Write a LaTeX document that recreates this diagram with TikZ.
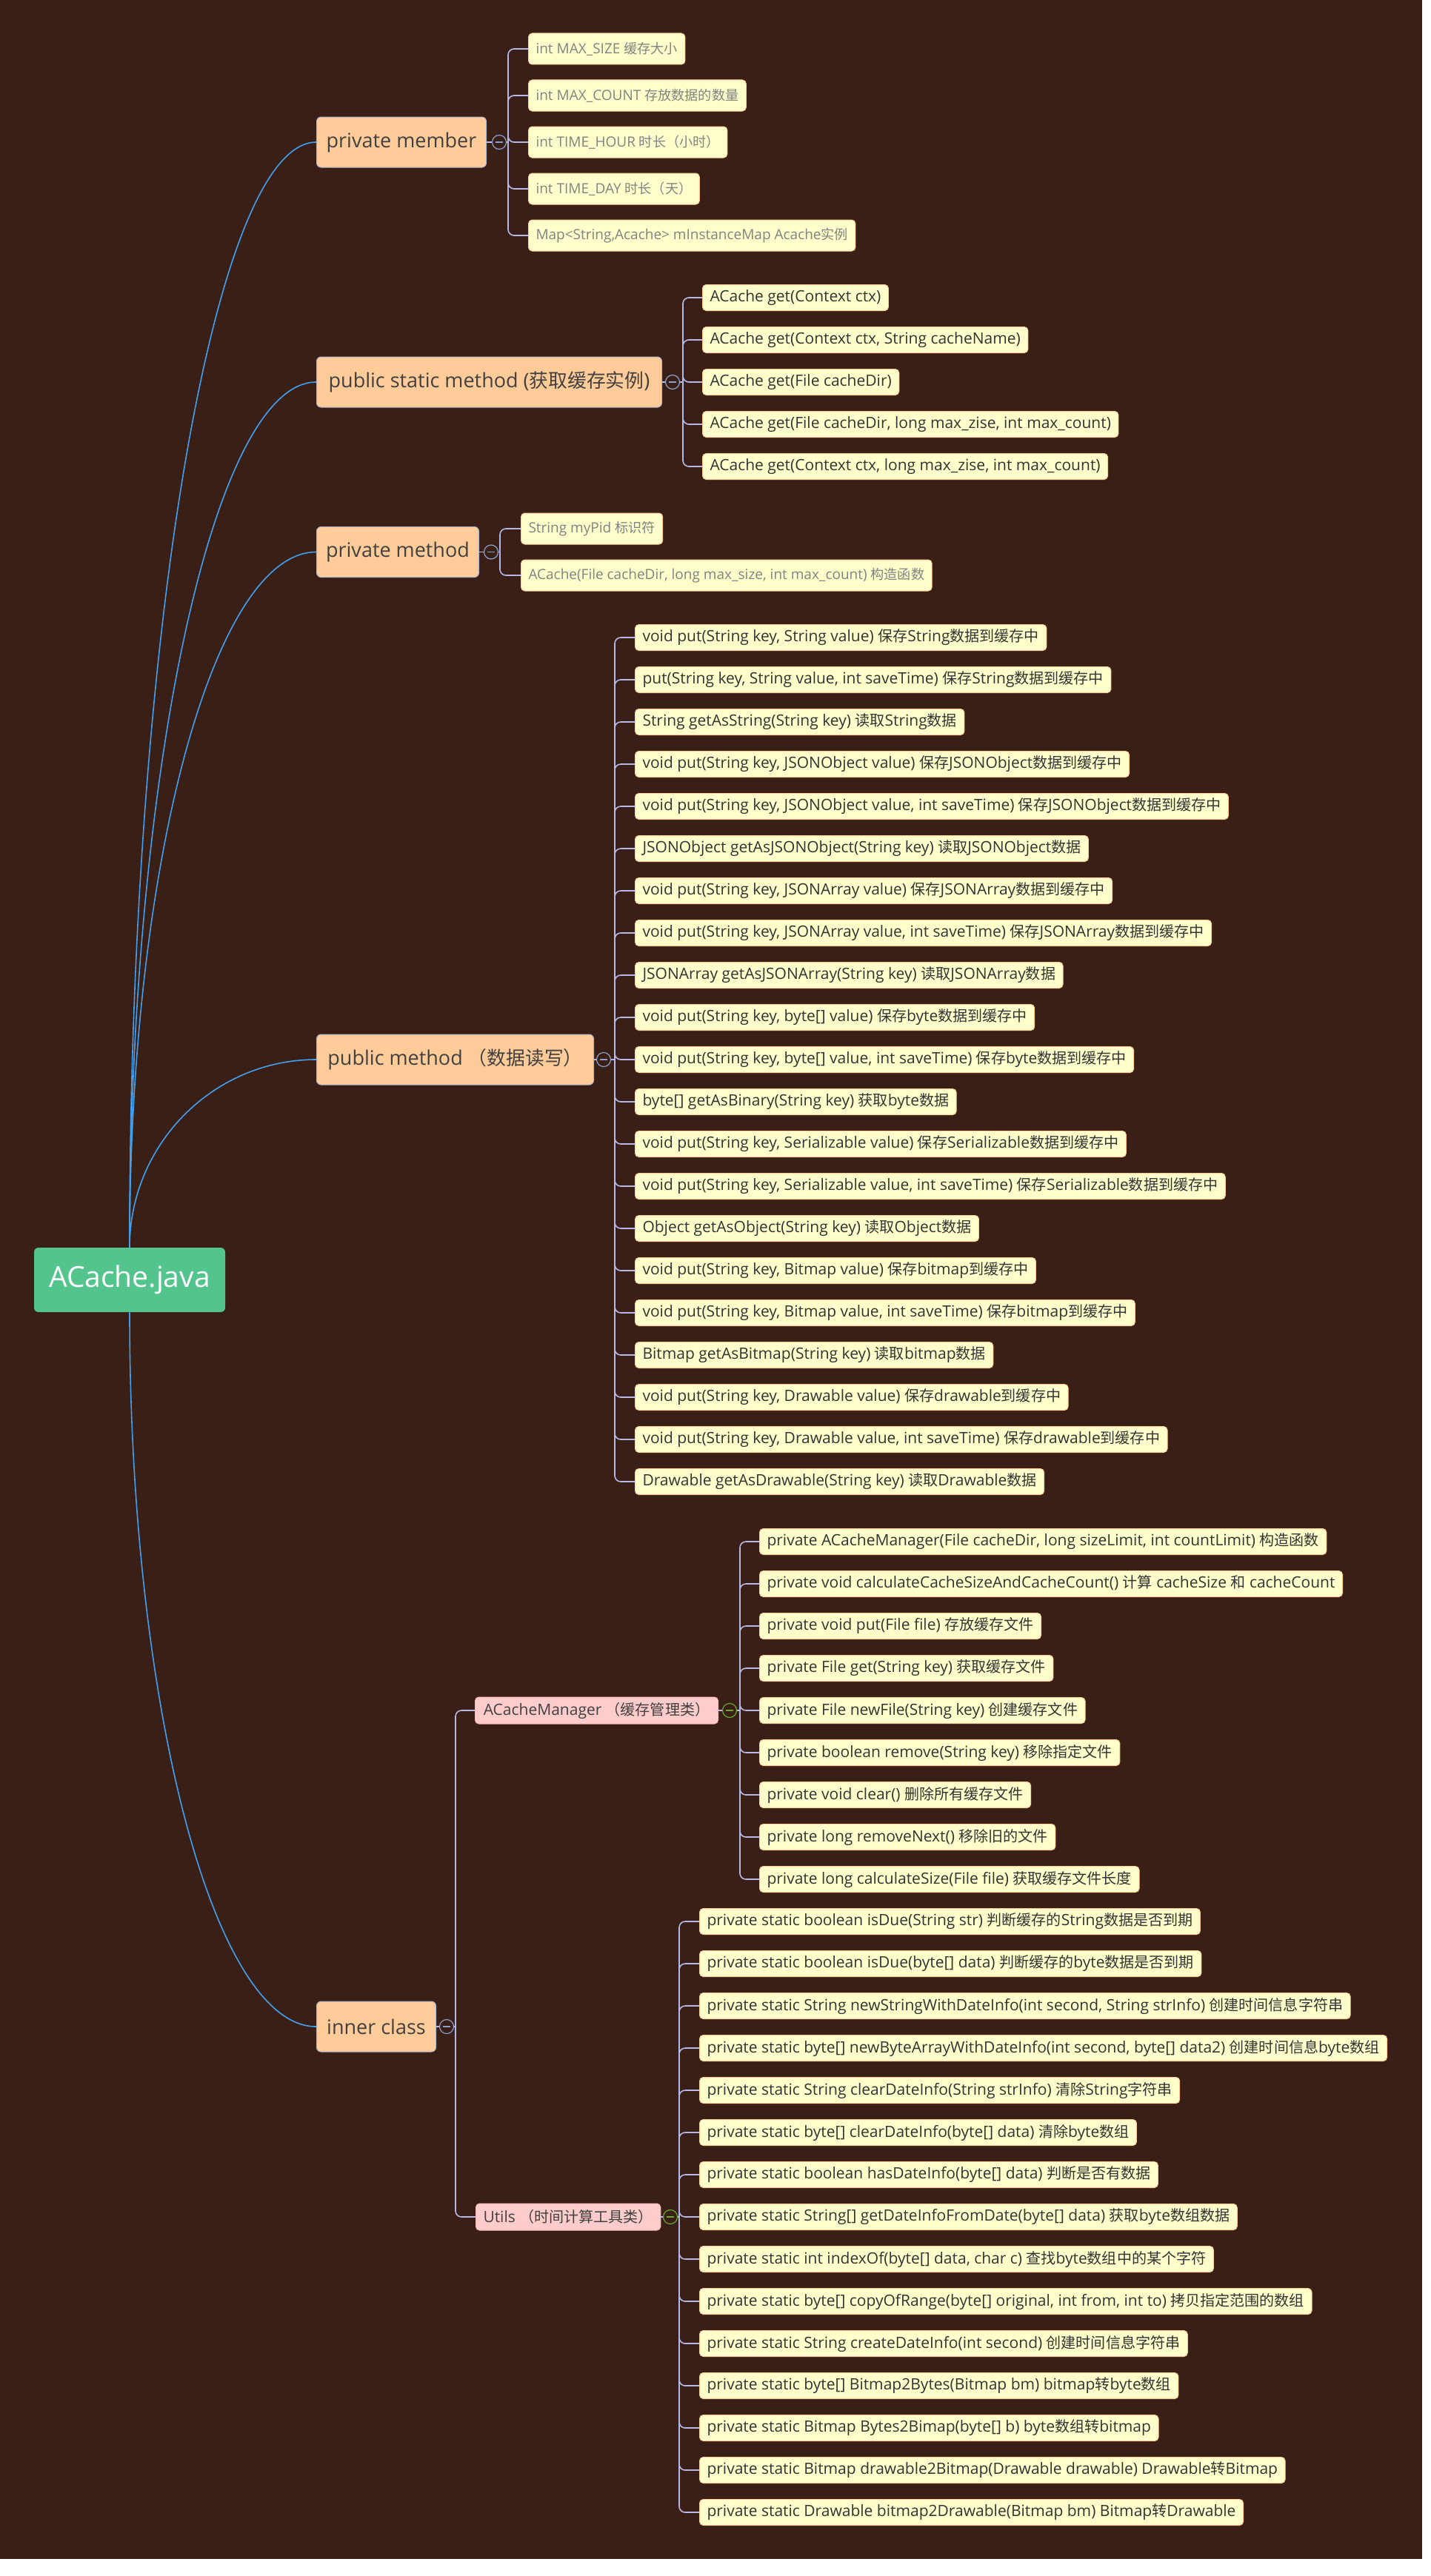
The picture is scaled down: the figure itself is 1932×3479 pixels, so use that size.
\documentclass[tikz,border=0pt]{standalone}
\usepackage{fontspec}
\setmainfont{Open Sans}
\newfontfamily\cjk[Scale=0.955]{Noto Sans CJK SC}
\newcommand\z[1]{{\cjk #1}}
\usetikzlibrary{calc}
\definecolor{bg}{RGB}{57,31,21}
\definecolor{rootgreen}{RGB}{82,196,140}
\definecolor{topicfill}{RGB}{255,204,153}
\definecolor{topicline}{RGB}{170,180,205}
\definecolor{topictext}{RGB}{64,64,64}
\definecolor{subfill}{RGB}{255,204,204}
\definecolor{subline}{RGB}{255,185,185}
\definecolor{leaffill}{RGB}{255,255,204}
\definecolor{leafline}{RGB}{255,204,153}
\definecolor{leaftext}{RGB}{51,51,51}
\definecolor{greytext}{RGB}{130,130,130}
\definecolor{busc}{RGB}{184,184,232}
\definecolor{curvec}{RGB}{66,160,240}
\definecolor{circa}{RGB}{140,160,205}
\definecolor{circb}{RGB}{105,170,45}
\newcommand\rootcurve[2]{\coordinate (k#2) at (#1 |- #2.west);
  \draw[curve] (#1) .. controls ($(#1)!0.55!(k#2)$) and ($(#2.west)!0.55!(k#2)$) .. (#2.west);}
\begin{document}
\begin{tikzpicture}[x=0.5pt,y=-0.5pt,
  rootbox/.style={fill=rootgreen, rounded corners=3pt, text=white, font=\fontsize{19.5pt}{22pt}\selectfont, minimum width=129pt, minimum height=43.5pt, inner sep=0pt},
  topic/.style={anchor=west, fill=topicfill, draw=topicline, line width=0.5pt, rounded corners=3pt, text=topictext, font=\fontsize{13.5pt}{16pt}\selectfont, minimum height=34pt, inner xsep=6pt, inner ysep=0pt},
  sub/.style={anchor=west, fill=subfill, draw=subline, line width=0.5pt, rounded corners=2.5pt, text=topictext, font=\fontsize{10.5pt}{12pt}\selectfont, minimum height=18pt, inner xsep=5pt, inner ysep=0pt},
  leaf/.style={anchor=west, fill=leaffill, draw=leafline, line width=0.5pt, rounded corners=2.5pt, text=leaftext, font=\fontsize{10.5pt}{12pt}\selectfont, minimum height=17.5pt, inner xsep=5pt, inner ysep=0pt},
  gleaf/.style={leaf, text=greytext, font=\fontsize{9.5pt}{11pt}\selectfont, minimum height=21pt},
  busline/.style={draw=busc, line width=0.8pt, rounded corners=4pt},
  curve/.style={draw=curvec, line width=0.8pt},
  circ/.style={circle, draw=#1, fill=bg, line width=0.6pt, minimum size=9.5pt, inner sep=0pt,
    path picture={\draw[#1, line width=0.6pt] ([xshift=-2.3pt]path picture bounding box.center) -- ([xshift=2.3pt]path picture bounding box.center);}}
]
\useasboundingbox (0,0) rectangle (1932,3479);
\fill[white] (0,0) rectangle (1932,3479);
\fill[bg] (0,0) rectangle (1920,3456);

% root
\node[rootbox] (root) at (175,1728.5) {ACache.java};

% level 1
\node[topic, minimum width=114.5pt] (pm) at (427,192) {private member};
\node[topic, minimum width=233pt] (psm) at (427,516) {public static method (\z{获取缓存实例})};
\node[topic, minimum width=109.5pt] (prm) at (427,745.5) {private method};
\node[topic, minimum width=187pt] (pub) at (427,1431) {public method \z{（数据读写）}};
\node[topic, minimum width=80.5pt] (ic) at (427,2737) {inner class};

% level 2
\node[sub, minimum width=164pt] (acm) at (641,2310) {ACacheManager \z{（缓存管理类）}};
\node[sub, minimum width=124pt] (ut) at (642,2994) {Utils \z{（时间计算工具类）}};

% private member children
\node[gleaf] (pm1) at (713,66) {int MAX\_SIZE \z{缓存大小}};
\node[gleaf] (pm2) at (713,129) {int MAX\_COUNT \z{存放数据的数量}};
\node[gleaf] (pm3) at (713,192) {int TIME\_HOUR \z{时长（小时）}};
\node[gleaf] (pm4) at (713,255) {int TIME\_DAY \z{时长（天）}};
\node[gleaf] (pm5) at (713,318) {Map<String,Acache> mInstanceMap Acache\z{实例}};

% public static method children
\node[leaf] (psm1) at (948,402) {ACache get(Context ctx)};
\node[leaf] (psm2) at (948,459) {ACache get(Context ctx, String cacheName)};
\node[leaf] (psm3) at (948,516) {ACache get(File cacheDir)};
\node[leaf] (psm4) at (948,573) {ACache get(File cacheDir, long max\_zise, int max\_count)};
\node[leaf] (psm5) at (948,630) {ACache get(Context ctx, long max\_zise, int max\_count)};

% private method children
\node[gleaf] (prm1) at (703,714) {String myPid \z{标识符}};
\node[gleaf] (prm2) at (703,777) {ACache(File cacheDir, long max\_size, int max\_count) \z{构造函数}};

% public method children
\node[leaf] (pub1) at (857,861) {void put(String key, String value) \z{保存}String\z{数据到缓存中}};
\node[leaf] (pub2) at (857,918) {put(String key, String value, int saveTime) \z{保存}String\z{数据到缓存中}};
\node[leaf] (pub3) at (857,975) {String getAsString(String key) \z{读取}String\z{数据}};
\node[leaf] (pub4) at (857,1032) {void put(String key, JSONObject value) \z{保存}JSONObject\z{数据到缓存中}};
\node[leaf] (pub5) at (857,1089) {void put(String key, JSONObject value, int saveTime) \z{保存}JSONObject\z{数据到缓存中}};
\node[leaf] (pub6) at (857,1146) {JSONObject getAsJSONObject(String key) \z{读取}JSONObject\z{数据}};
\node[leaf] (pub7) at (857,1203) {void put(String key, JSONArray value) \z{保存}JSONArray\z{数据到缓存中}};
\node[leaf] (pub8) at (857,1260) {void put(String key, JSONArray value, int saveTime) \z{保存}JSONArray\z{数据到缓存中}};
\node[leaf] (pub9) at (857,1317) {JSONArray getAsJSONArray(String key) \z{读取}JSONArray\z{数据}};
\node[leaf] (pub10) at (857,1374) {void put(String key, byte[] value) \z{保存}byte\z{数据到缓存中}};
\node[leaf] (pub11) at (857,1431) {void put(String key, byte[] value, int saveTime) \z{保存}byte\z{数据到缓存中}};
\node[leaf] (pub12) at (857,1488) {byte[] getAsBinary(String key) \z{获取}byte\z{数据}};
\node[leaf] (pub13) at (857,1545) {void put(String key, Serializable value) \z{保存}Serializable\z{数据到缓存中}};
\node[leaf] (pub14) at (857,1602) {void put(String key, Serializable value, int saveTime) \z{保存}Serializable\z{数据到缓存中}};
\node[leaf] (pub15) at (857,1659) {Object getAsObject(String key) \z{读取}Object\z{数据}};
\node[leaf] (pub16) at (857,1716) {void put(String key, Bitmap value) \z{保存}bitmap\z{到缓存中}};
\node[leaf] (pub17) at (857,1773) {void put(String key, Bitmap value, int saveTime) \z{保存}bitmap\z{到缓存中}};
\node[leaf] (pub18) at (857,1830) {Bitmap getAsBitmap(String key) \z{读取}bitmap\z{数据}};
\node[leaf] (pub19) at (857,1887) {void put(String key, Drawable value) \z{保存}drawable\z{到缓存中}};
\node[leaf] (pub20) at (857,1944) {void put(String key, Drawable value, int saveTime) \z{保存}drawable\z{到缓存中}};
\node[leaf] (pub21) at (857,2001) {Drawable getAsDrawable(String key) \z{读取}Drawable\z{数据}};

% ACacheManager children
\node[leaf] (acm1) at (1025,2082) {private ACacheManager(File cacheDir, long sizeLimit, int countLimit) \z{构造函数}};
\node[leaf] (acm2) at (1025,2139) {private void calculateCacheSizeAndCacheCount() \z{计算} cacheSize \z{和} cacheCount};
\node[leaf] (acm3) at (1025,2196) {private void put(File file) \z{存放缓存文件}};
\node[leaf] (acm4) at (1025,2253) {private File get(String key) \z{获取缓存文件}};
\node[leaf] (acm5) at (1025,2310) {private File newFile(String key) \z{创建缓存文件}};
\node[leaf] (acm6) at (1025,2367) {private boolean remove(String key) \z{移除指定文件}};
\node[leaf] (acm7) at (1025,2424) {private void clear() \z{删除所有缓存文件}};
\node[leaf] (acm8) at (1025,2481) {private long removeNext() \z{移除旧的文件}};
\node[leaf] (acm9) at (1025,2538) {private long calculateSize(File file) \z{获取缓存文件长度}};

% Utils children
\node[leaf] (ut1) at (944,2595) {private static boolean isDue(String str) \z{判断缓存的}String\z{数据是否到期}};
\node[leaf] (ut2) at (944,2652) {private static boolean isDue(byte[] data) \z{判断缓存的}byte\z{数据是否到期}};
\node[leaf] (ut3) at (944,2709) {private static String newStringWithDateInfo(int second, String strInfo) \z{创建时间信息字符串}};
\node[leaf] (ut4) at (944,2766) {private static byte[] newByteArrayWithDateInfo(int second, byte[] data2) \z{创建时间信息}byte\z{数组}};
\node[leaf] (ut5) at (944,2823) {private static String clearDateInfo(String strInfo) \z{清除}String\z{字符串}};
\node[leaf] (ut6) at (944,2880) {private static byte[] clearDateInfo(byte[] data) \z{清除}byte\z{数组}};
\node[leaf] (ut7) at (944,2937) {private static boolean hasDateInfo(byte[] data) \z{判断是否有数据}};
\node[leaf] (ut8) at (944,2994) {private static String[] getDateInfoFromDate(byte[] data) \z{获取}byte\z{数组数据}};
\node[leaf] (ut9) at (944,3051) {private static int indexOf(byte[] data, char c) \z{查找}byte\z{数组中的某个字符}};
\node[leaf] (ut10) at (944,3108) {private static byte[] copyOfRange(byte[] original, int from, int to) \z{拷贝指定范围的数组}};
\node[leaf] (ut11) at (944,3165) {private static String createDateInfo(int second) \z{创建时间信息字符串}};
\node[leaf] (ut12) at (944,3222) {private static byte[] Bitmap2Bytes(Bitmap bm) bitmap\z{转}byte\z{数组}};
\node[leaf] (ut13) at (944,3279) {private static Bitmap Bytes2Bimap(byte[] b) byte\z{数组转}bitmap};
\node[leaf] (ut14) at (944,3336) {private static Bitmap drawable2Bitmap(Drawable drawable) Drawable\z{转}Bitmap};
\node[leaf] (ut15) at (944,3393) {private static Drawable bitmap2Drawable(Bitmap bm) Bitmap\z{转}Drawable};

% root curves
\rootcurve{root.north}{pm}
\rootcurve{root.north}{psm}
\rootcurve{root.north}{prm}
\rootcurve{root.north}{pub}
\rootcurve{root.south}{ic}

% bus coordinates
\coordinate (pmb) at (686,192);
\coordinate (psmb) at (922,516);
\coordinate (prmb) at (675,745.5);
\coordinate (pubb) at (830,1431);
\coordinate (icb) at (615,2737);
\coordinate (acmb) at (999,2310);
\coordinate (utb) at (917,2994);

\draw[busline] (pm.east) -- (pmb);
\draw[busline] (psm.east) -- (psmb);
\draw[busline] (prm.east) -- (prmb);
\draw[busline] (pub.east) -- (pubb);
\draw[busline] (ic.east) -- (icb);
\draw[busline] (acm.east) -- (acmb);
\draw[busline] (ut.east) -- (utb);

\foreach \i in {1,...,5} {\draw[busline] (pmb) |- (pm\i.west);}
\foreach \i in {1,...,5} {\draw[busline] (psmb) |- (psm\i.west);}
\foreach \i in {1,2} {\draw[busline] (prmb) |- (prm\i.west);}
\foreach \i in {1,...,21} {\draw[busline] (pubb) |- (pub\i.west);}
\draw[busline] (icb) |- (acm.west);
\draw[busline] (icb) |- (ut.west);
\foreach \i in {1,...,9} {\draw[busline] (acmb) |- (acm\i.west);}
\foreach \i in {1,...,15} {\draw[busline] (utb) |- (ut\i.west);}

% collapse markers
\node[circ=circa] (pmc) at (674,192) {};
\node[circ=circa] (psmc) at (908,516) {};
\node[circ=circa] (prmc) at (663,745.5) {};
\node[circ=circa] (pubc) at (815,1431) {};
\node[circ=circa] (icc) at (603,2737) {};
\node[circ=circb] (acmc) at (985,2310) {};
\node[circ=circb] (utc) at (905,2994) {};
\end{tikzpicture}
\end{document}
